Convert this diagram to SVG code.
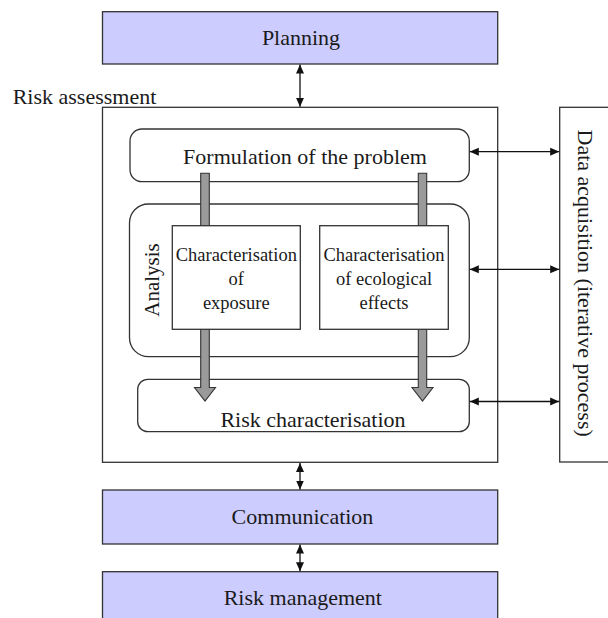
<svg xmlns="http://www.w3.org/2000/svg" width="608" height="618" viewBox="0 0 608 618">
<style>
.box{fill:#ffffff;stroke:#333333;stroke-width:1.3}
.blue{fill:#ccccff;stroke:#333333;stroke-width:1.3}
.t{font-family:"Liberation Serif","Times New Roman",serif;font-size:22px;fill:#1a1a1a}
.s{font-family:"Liberation Serif","Times New Roman",serif;font-size:18.5px;fill:#1a1a1a;text-anchor:middle}
.m{text-anchor:middle}
.link{stroke:#111111;stroke-width:1.3;fill:none;marker-start:url(#ah);marker-end:url(#ah)}
.bar{fill:#9a9a9a;stroke:#333333;stroke-width:1.1}
</style>
<defs>
<marker id="ah" markerUnits="userSpaceOnUse" markerWidth="9" markerHeight="9" refX="9" refY="4.5" orient="auto-start-reverse">
<path d="M0,0.5 L9,4.5 L0,8.5 z" fill="#111111"/>
</marker>
</defs>
<rect width="608" height="618" fill="#ffffff"/>

<g id="planning">
<rect class="blue" x="102.5" y="11.7" width="395.2" height="52.3"/>
<text class="t m" x="301" y="45">Planning</text>
</g>

<g id="risk-assessment">
<rect class="box" x="102.5" y="107.3" width="395.2" height="355"/>
<text class="t" x="12.7" y="104">Risk assessment</text>
</g>

<g id="data-acquisition">
<rect class="box" x="559.7" y="107.3" width="52" height="354.7"/>
<text class="t" transform="translate(578,129.5) rotate(90)">Data acquisition (iterative process)</text>
</g>

<g id="formulation">
<rect class="box" x="130" y="129" width="339.3" height="52.7" rx="12" ry="12"/>
<text class="t m" x="305" y="163.5">Formulation of the problem</text>
</g>

<g id="analysis">
<rect class="box" x="129.5" y="204" width="339.8" height="152.7" rx="19" ry="19"/>
<text class="t m" style="font-size:21px" transform="translate(159,280) rotate(-90)">Analysis</text>
</g>

<g id="risk-characterisation">
<rect class="box" x="137.7" y="379.3" width="331.6" height="52.4" rx="10" ry="10"/>
<text class="t m" x="313" y="427">Risk characterisation</text>
</g>

<g id="flows">
<path class="bar" d="M200.7,173.3 H209.3 V387.5 H215.5 L205,401 L194.5,387.5 H200.7 Z"/>
<path class="bar" d="M418.3,173.3 H426.7 V387.5 H433 L422.5,401 L412,387.5 H418.3 Z"/>
</g>

<g id="exposure">
<rect class="box" x="172.3" y="225.7" width="128" height="103.6"/>
<text class="s" x="236.3" y="261">Characterisation</text>
<text class="s" x="236.3" y="284.5">of</text>
<text class="s" x="236.3" y="308.5">exposure</text>
</g>

<g id="ecological">
<rect class="box" x="319.7" y="225.7" width="128.6" height="103.6"/>
<text class="s" x="384" y="261">Characterisation</text>
<text class="s" x="384" y="284.5">of ecological</text>
<text class="s" x="384" y="308.5">effects</text>
</g>

<g id="communication">
<rect class="blue" x="102.5" y="490" width="395.2" height="54"/>
<text class="t m" x="302.5" y="524">Communication</text>
</g>

<g id="risk-management">
<rect class="blue" x="102.5" y="571.7" width="395.2" height="52"/>
<text class="t m" x="302.8" y="605">Risk management</text>
</g>

<g id="connectors">
<line class="link" x1="300" y1="64.5" x2="300" y2="106.8"/>
<line class="link" x1="300" y1="463" x2="300" y2="489.5"/>
<line class="link" x1="300" y1="544.5" x2="300" y2="571.2"/>
<line class="link" x1="469.8" y1="151.7" x2="559.2" y2="151.7"/>
<line class="link" x1="469.8" y1="269.3" x2="559.2" y2="269.3"/>
<line class="link" x1="469.8" y1="401.5" x2="559.2" y2="401.5"/>
</g>
</svg>
